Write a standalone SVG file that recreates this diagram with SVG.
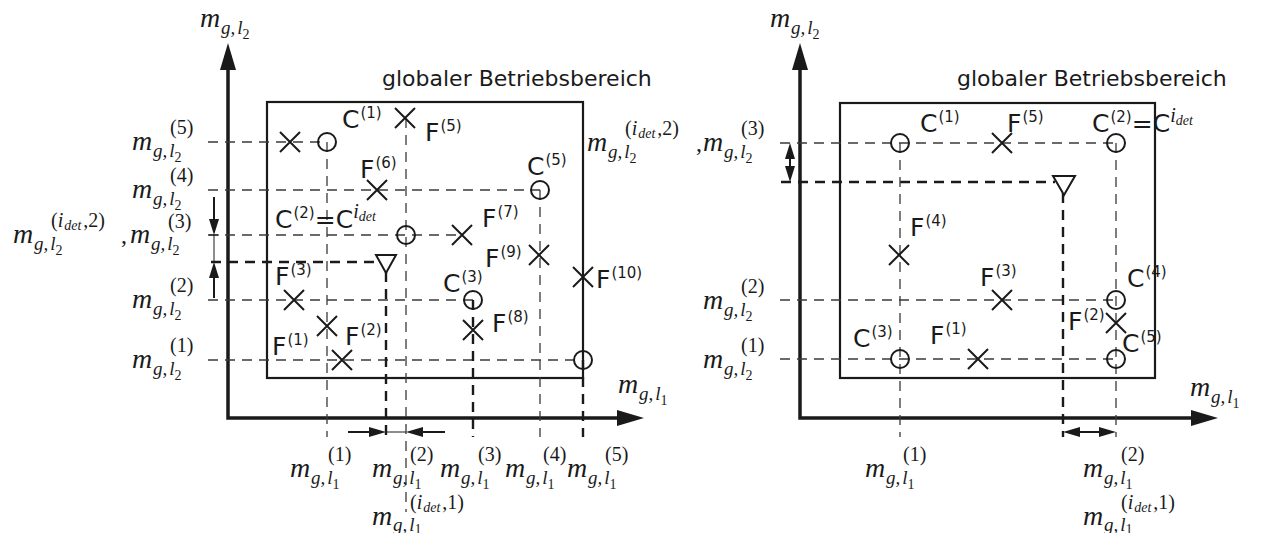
<svg xmlns="http://www.w3.org/2000/svg" xmlns:xlink="http://www.w3.org/1999/xlink" width="1264" height="533" viewBox="0 0 1264 533">
<style>
.ax{stroke:#1a1a1a;stroke-width:3.5;fill:none}
.box{stroke:#1a1a1a;stroke-width:2.2;fill:none}
.dt{stroke:#3a3a3a;stroke-width:1.3;stroke-dasharray:10 7;fill:none}
.db{stroke:#1a1a1a;stroke-width:2.4;stroke-dasharray:10 7;fill:none}
.mk{stroke:#1a1a1a;stroke-width:2;fill:none}
.ln{stroke:#1a1a1a;stroke-width:2;fill:none}
.lt{stroke:#1a1a1a;stroke-width:1;fill:none}
.ah{fill:#1a1a1a;stroke:none}
text{fill:#1a1a1a}
.mi{font-family:"Liberation Serif",serif;font-style:italic;font-size:28px}
.sb{font-family:"Liberation Serif",serif;font-style:italic;font-size:19px}
.sn{font-style:normal;font-size:14px}
.sp{font-family:"Liberation Serif",serif;font-size:20px}
.si{font-style:italic}
.sd{font-style:italic;font-size:14px}
.cf{font-family:"DejaVu Sans",sans-serif;font-size:25px}
.cs{font-size:15px}
.tt{font-family:"DejaVu Sans",sans-serif;font-size:22px}
</style>
<defs>
<path id="xm" d="M-10,-10L10,10M-10,10L10,-10" class="mk"/>
<circle id="om" r="9" class="mk"/>
</defs>

<!-- ================= LEFT DIAGRAM ================= -->
<g id="left-axes">
<path class="ax" d="M228,66 V418 H620"/>
<polygon class="ah" points="228,43 220,70 236,70"/>
<polygon class="ah" points="644,418 617,410 617,426"/>
<rect class="box" x="267" y="102" width="316" height="276"/>
<text class="tt" x="382" y="86">globaler Betriebsbereich</text>
</g>

<g id="left-connectors">
<path class="dt" d="M208,142 H327"/>
<path class="dt" d="M208,190 H540"/>
<path class="dt" d="M208,235 H462"/>
<path class="dt" d="M208,300 H473"/>
<path class="dt" d="M208,360 H583"/>
<path class="db" d="M211,262 H378"/>
<path class="dt" d="M327,142 V437"/>
<path class="dt" d="M406,118 V512"/>
<path class="dt" d="M540,190 V437"/>
<path class="db" d="M386,272 V437"/>
<path class="db" d="M473,300 V437"/>
<path class="db" d="M583,360 V437"/>
<path class="ln" d="M214,197 V220"/>
<path class="lt" d="M214,235 V262"/>
<path class="ln" d="M214,277 V298"/>
<polygon class="ah" points="214,235 209,219 219,219"/>
<polygon class="ah" points="214,262 209,278 219,278"/>
<path class="lt" d="M209,235 H219"/>
<path class="ln" d="M348,432 H370"/>
<path class="lt" d="M386,432 H406"/>
<path class="ln" d="M422,432 H445"/>
<polygon class="ah" points="386,432 369,427 369,437"/>
<polygon class="ah" points="406,432 423,427 423,437"/>
</g>

<g id="L-F4"><use href="#xm" x="290" y="142"/></g>
<g id="L-C1"><use href="#om" x="327" y="142"/><text class="cf" x="342" y="128">C<tspan class="cs" dy="-10" dx="1">(1)</tspan></text></g>
<g id="L-F5"><use href="#xm" x="405" y="118"/><text class="cf" x="425" y="141">F<tspan class="cs" dy="-10" dx="1">(5)</tspan></text></g>
<g id="L-F6"><use href="#xm" x="377" y="190"/><text class="cf" x="360" y="178">F<tspan class="cs" dy="-10" dx="1">(6)</tspan></text></g>
<g id="L-C5"><use href="#om" x="540" y="190"/><text class="cf" x="527" y="175">C<tspan class="cs" dy="-10" dx="1">(5)</tspan></text></g>
<g id="L-C2"><use href="#om" x="406" y="235"/><text class="cf" x="275" y="228">C<tspan class="cs" dy="-10" dx="1">(2)</tspan><tspan dy="10">=C</tspan><tspan class="sp si" dy="-10">i</tspan><tspan class="sp sd" dy="3">det</tspan></text></g>
<g id="L-F7"><use href="#xm" x="462" y="235"/><text class="cf" x="482" y="227">F<tspan class="cs" dy="-10" dx="1">(7)</tspan></text></g>
<g id="L-F9"><use href="#xm" x="539" y="255"/><text class="cf" x="485" y="267">F<tspan class="cs" dy="-10" dx="1">(9)</tspan></text></g>
<g id="L-F10"><use href="#xm" x="583" y="277"/><text class="cf" x="596" y="288">F<tspan class="cs" dy="-10" dx="1">(10)</tspan></text></g>
<g id="L-det"><polygon class="mk" points="376,255 396,255 386,273"/></g>
<g id="L-F3"><use href="#xm" x="294" y="300"/><text class="cf" x="275" y="285">F<tspan class="cs" dy="-10" dx="1">(3)</tspan></text></g>
<g id="L-C3"><use href="#om" x="473" y="300"/><text class="cf" x="443" y="292">C<tspan class="cs" dy="-10" dx="1">(3)</tspan></text></g>
<g id="L-F1"><use href="#xm" x="327" y="326"/><text class="cf" x="272" y="355">F<tspan class="cs" dy="-10" dx="1">(1)</tspan></text></g>
<g id="L-F8"><use href="#xm" x="473" y="330"/><text class="cf" x="492" y="332">F<tspan class="cs" dy="-10" dx="1">(8)</tspan></text></g>
<g id="L-F2"><use href="#xm" x="342" y="360"/><text class="cf" x="345" y="345">F<tspan class="cs" dy="-10" dx="1">(2)</tspan></text></g>
<g id="L-C4"><use href="#om" x="583" y="360"/></g>

<g id="left-labels">
<text class="mi" x="200" y="27">m</text><text class="sb" x="221" y="34">g,<tspan dx="2">l</tspan><tspan class="sn" dy="5">2</tspan></text>

<text class="mi" x="132" y="150">m</text><text class="sb" x="153" y="157">g,<tspan dx="2">l</tspan><tspan class="sn" dy="5">2</tspan></text><text class="sp" x="170" y="134">(5)</text>
<text class="mi" x="132" y="198">m</text><text class="sb" x="153" y="205">g,<tspan dx="2">l</tspan><tspan class="sn" dy="5">2</tspan></text><text class="sp" x="170" y="182">(4)</text>

<text class="mi" x="13" y="243">m</text><text class="sb" x="34" y="250">g,<tspan dx="2">l</tspan><tspan class="sn" dy="5">2</tspan></text><text class="sp" x="51" y="227">(<tspan class="si">i</tspan><tspan class="sd" dy="3" dx="1">det</tspan><tspan dy="-3" dx="2">,2)</tspan></text>
<text class="sp" x="121" y="243" style="font-size:24px">,</text>
<text class="mi" x="130" y="243">m</text><text class="sb" x="151" y="250">g,<tspan dx="2">l</tspan><tspan class="sn" dy="5">2</tspan></text><text class="sp" x="168" y="228">(3)</text>

<text class="mi" x="132" y="308">m</text><text class="sb" x="153" y="315">g,<tspan dx="2">l</tspan><tspan class="sn" dy="5">2</tspan></text><text class="sp" x="170" y="292">(2)</text>
<text class="mi" x="132" y="368">m</text><text class="sb" x="153" y="375">g,<tspan dx="2">l</tspan><tspan class="sn" dy="5">2</tspan></text><text class="sp" x="170" y="352">(1)</text>

<text class="mi" x="618" y="393">m</text><text class="sb" x="639" y="400">g,<tspan dx="2">l</tspan><tspan class="sn" dy="5">1</tspan></text>

<text class="mi" x="290" y="477">m</text><text class="sb" x="311" y="484">g,<tspan dx="2">l</tspan><tspan class="sn" dy="5">1</tspan></text><text class="sp" x="328" y="461">(1)</text>
<text class="mi" x="372" y="477">m</text><text class="sb" x="393" y="484">g,<tspan dx="2">l</tspan><tspan class="sn" dy="5">1</tspan></text><text class="sp" x="410" y="461">(2)</text>
<text class="mi" x="440" y="477">m</text><text class="sb" x="461" y="484">g,<tspan dx="2">l</tspan><tspan class="sn" dy="5">1</tspan></text><text class="sp" x="478" y="461">(3)</text>
<text class="mi" x="505" y="477">m</text><text class="sb" x="526" y="484">g,<tspan dx="2">l</tspan><tspan class="sn" dy="5">1</tspan></text><text class="sp" x="543" y="461">(4)</text>
<text class="mi" x="567" y="477">m</text><text class="sb" x="588" y="484">g,<tspan dx="2">l</tspan><tspan class="sn" dy="5">1</tspan></text><text class="sp" x="605" y="461">(5)</text>
<text class="mi" x="372" y="525">m</text><text class="sb" x="393" y="531">g,<tspan dx="2">l</tspan><tspan class="sn" dy="3">1</tspan></text><text class="sp" x="410" y="509">(<tspan class="si">i</tspan><tspan class="sd" dy="3" dx="1">det</tspan><tspan dy="-3" dx="2">,1)</tspan></text>
</g>

<!-- ================= RIGHT DIAGRAM ================= -->
<g id="right-axes">
<path class="ax" d="M800,66 V418 H1194"/>
<polygon class="ah" points="800,43 792,70 808,70"/>
<polygon class="ah" points="1218,418 1191,410 1191,426"/>
<rect class="box" x="840" y="103" width="315" height="275"/>
<text class="tt" x="957" y="86">globaler Betriebsbereich</text>
</g>

<g id="right-connectors">
<path class="dt" d="M780,143 H1116"/>
<path class="dt" d="M780,300 H1116"/>
<path class="dt" d="M780,359 H1116"/>
<path class="db" d="M781,182 H1055"/>
<path class="dt" d="M900,143 V437"/>
<path class="dt" d="M1116,143 V437"/>
<path class="db" d="M1063,193 V437"/>
<path class="ln" d="M790,158 V167"/>
<polygon class="ah" points="790,143 785,159 795,159"/>
<polygon class="ah" points="790,182 785,166 795,166"/>
<path class="ln" d="M1079,432 H1100"/>
<polygon class="ah" points="1063,432 1080,427 1080,437"/>
<polygon class="ah" points="1116,432 1099,427 1099,437"/>
</g>

<g id="R-C1"><use href="#om" x="900" y="143"/><text class="cf" x="920" y="132">C<tspan class="cs" dy="-10" dx="1">(1)</tspan></text></g>
<g id="R-F5"><use href="#xm" x="1002" y="143"/><text class="cf" x="1007" y="132">F<tspan class="cs" dy="-10" dx="1">(5)</tspan></text></g>
<g id="R-C2"><use href="#om" x="1116" y="143"/><text class="cf" x="1092" y="132">C<tspan class="cs" dy="-10" dx="1">(2)</tspan><tspan dy="10">=C</tspan><tspan class="sp si" dy="-10">i</tspan><tspan class="sp sd" dy="3">det</tspan></text></g>
<g id="R-det"><polygon class="mk" points="1053,176 1075,176 1064,195"/></g>
<g id="R-F4"><use href="#xm" x="899" y="255"/><text class="cf" x="910" y="236">F<tspan class="cs" dy="-10" dx="1">(4)</tspan></text></g>
<g id="R-F3"><use href="#xm" x="1002" y="300"/><text class="cf" x="980" y="286">F<tspan class="cs" dy="-10" dx="1">(3)</tspan></text></g>
<g id="R-C4"><use href="#om" x="1116" y="300"/><text class="cf" x="1127" y="287">C<tspan class="cs" dy="-10" dx="1">(4)</tspan></text></g>
<g id="R-F2"><use href="#xm" x="1116" y="323"/><text class="cf" x="1068" y="330">F<tspan class="cs" dy="-10" dx="1">(2)</tspan></text></g>
<g id="R-C5"><use href="#om" x="1116" y="359"/><text class="cf" x="1122" y="352">C<tspan class="cs" dy="-10" dx="1">(5)</tspan></text></g>
<g id="R-C3"><use href="#om" x="900" y="359"/><text class="cf" x="853" y="347">C<tspan class="cs" dy="-10" dx="1">(3)</tspan></text></g>
<g id="R-F1"><use href="#xm" x="978" y="359"/><text class="cf" x="930" y="344">F<tspan class="cs" dy="-10" dx="1">(1)</tspan></text></g>

<g id="right-labels">
<text class="mi" x="770" y="27">m</text><text class="sb" x="791" y="34">g,<tspan dx="2">l</tspan><tspan class="sn" dy="5">2</tspan></text>

<text class="mi" x="587" y="151">m</text><text class="sb" x="608" y="158">g,<tspan dx="2">l</tspan><tspan class="sn" dy="5">2</tspan></text><text class="sp" x="625" y="135">(<tspan class="si">i</tspan><tspan class="sd" dy="3" dx="1">det</tspan><tspan dy="-3" dx="2">,2)</tspan></text>
<text class="sp" x="696" y="151" style="font-size:24px">,</text>
<text class="mi" x="703" y="151">m</text><text class="sb" x="724" y="158">g,<tspan dx="2">l</tspan><tspan class="sn" dy="5">2</tspan></text><text class="sp" x="741" y="135">(3)</text>

<text class="mi" x="703" y="309">m</text><text class="sb" x="724" y="316">g,<tspan dx="2">l</tspan><tspan class="sn" dy="5">2</tspan></text><text class="sp" x="741" y="293">(2)</text>
<text class="mi" x="703" y="368">m</text><text class="sb" x="724" y="375">g,<tspan dx="2">l</tspan><tspan class="sn" dy="5">2</tspan></text><text class="sp" x="741" y="352">(1)</text>

<text class="mi" x="1190" y="396">m</text><text class="sb" x="1211" y="403">g,<tspan dx="2">l</tspan><tspan class="sn" dy="5">1</tspan></text>

<text class="mi" x="865" y="477">m</text><text class="sb" x="886" y="484">g,<tspan dx="2">l</tspan><tspan class="sn" dy="5">1</tspan></text><text class="sp" x="903" y="461">(1)</text>
<text class="mi" x="1083" y="477">m</text><text class="sb" x="1104" y="484">g,<tspan dx="2">l</tspan><tspan class="sn" dy="5">1</tspan></text><text class="sp" x="1121" y="461">(2)</text>
<text class="mi" x="1083" y="525">m</text><text class="sb" x="1104" y="531">g,<tspan dx="2">l</tspan><tspan class="sn" dy="3">1</tspan></text><text class="sp" x="1121" y="509">(<tspan class="si">i</tspan><tspan class="sd" dy="3" dx="1">det</tspan><tspan dy="-3" dx="2">,1)</tspan></text>
</g>
</svg>
